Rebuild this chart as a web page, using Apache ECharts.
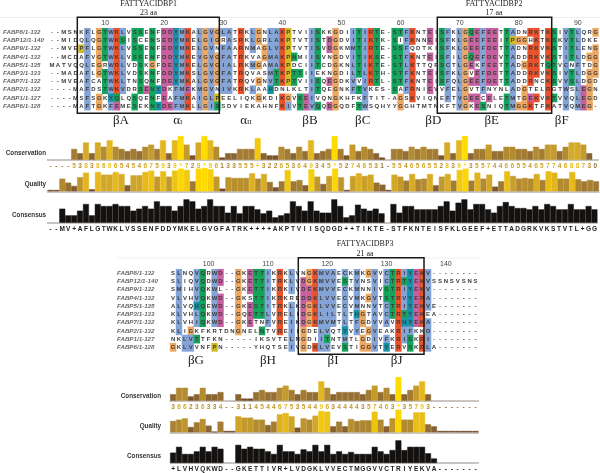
<!DOCTYPE html>
<html>
<head>
<meta charset="utf-8">
<title>FABP alignment</title>
<style>
  html, body { margin: 0; padding: 0; background: #fff; }
  #chart { width: 600px; height: 473px; }
</style>
<script src="https://cdn.jsdelivr.net/npm/echarts@6/dist/echarts.min.js"></script>
</head>
<body>
<div id="chart"></div>
<script>
var proteins = ['FABP8/1-132', 'FABP12/1-140', 'FABP9/1-132', 'FABP4/1-132', 'FABP5/1-135',
  'FABP3/1-133', 'FABP7/1-132', 'FABP2/1-132', 'FABP1/1-127', 'FABP6/1-128']

// columns 1-93
var residues1 = [
  '--MSNKFLGTWKLVSSENFDDYMKALGVGLATRKLGNLAKPTVIISKKGDIITIRTE-STFKNTEISFKLGQEFEETTADNRKTKSIVTLQRG',
  '--MIDQLQGTWKSISCENSEDYMKELGIGRASRKLGRLAKPTVTISTDGDVITIKTK-SIFKNNEISFKLGEEFEEITPGGHKTKSKVTLDKE',
  '--MVEPFLGTWKLVSSENFEDYMKELGVNFAARNMAGLVKPTVTISVDGKMMTIRTE-SSFQDTKISFKLGEEFDETTADNRKVKSTITLENG',
  '--MCDAFVGTWKLVSSENFDDYMKEVGVGFATRKVAGMAKPNMIISVNGDVITIKSE-STFKNTEISFILGQEFDEVTADDRKVKSTITLDGG',
  'MATVQQLEGRWRLVDSKGFDEYMKELGVGIALRKMGAMAKPDCIITCDGKNLTIKTE-STLKTTQFSCTLGEKFEETTADGRKTQTVCNFTDG',
  '--MADAFLGTWKLVDSKNFDDYMKSLGVGFATRQVASMTKPTTIIEKNGDILTLKTH-STFKNTEISFKLGVEFDETTADDRKVKSIVTLDGG',
  '--MVEAFCATWKLTNSQNFDEYMKALGVGFATRQVGNVTKPTVIISQEGDKVVIRTL-STFKNTEISFQLGEEFDETTADDRNCKSVVSLDGD',
  '----MAFDSTWKVDRSENYDKFMEKMGVNIVKRKLAAHDNLKLTITQEGNKFTVKES-SAFRNIEVVFELGVTFNYNLADGTELRGTWSLEGN',
  '----MSFSGKYQLQSQENFEAFMKAIGLPEELIQKGKDIKGVSEIVQNGKHFKFTIT-AGSKVIQNEFTVGEECELETMTGEKVKTVVQLEGD',
  '----MAFTGKFEMESEKNYDEFMKLLGISSDVIEKAHNFKIVTEVQQDGQDFTWSQHYYGGHTMTNKFTVGKESNIQTMGGKTFKATVQMEG-'
]
// columns 94-145
var residues2 = [
  'SLNQVQRWD--GKETTIKRKLVNGKMVAECKMKGVVCTRIYEKV--------',
  'SLIQVQDWD--GKETTITRKLVDGKMVVESTVNSVICTRTYEKVSSNSVSNS',
  'SMIHVQKWL--GKETTIKRKIVDEKMVVECKMNNIVSTRIYEKV--------',
  'VLVHVQKWD--GKSTTIKRKREDDKLVVECVMKGVTSTRVYERA--------',
  'ALVQHQEWD--GKESTITRKLKDGKLVVECVMNNVTCTRIYEKVE-------',
  'KLVHLQKWD--GQETTLVRELIDGKLILTLTHGTAVCTRTYEKEA-------',
  'KLVHIQKWD--GKETNFVREIKDGKMVMTLTFGDVVAVRHYEKA--------',
  'KLIGKFKRTDNGNELNTVREIIGDELVQTYVYEGVEAKRIFKKD--------',
  'NKLVTTFKN-----IKSVTELNGDIITNTMTLGDIVFKRISKRI--------',
  'GKLVVNFPN-----YHQTSEIVGDKLVEVSTIGGVTYERVSKRLA-------'
]

// one string per column, one letter per protein
var cellColours1 = [
  '..........', '..........', '..........', '..........', '..........', '..y.......', 'bbbbbbbbbb', '..........', 'oooooo..oo', 'gggg.ggg..',
  'bbbbbbbbcb', 'rrrrrrrrgm', 'bgbbbbbb..', '..........', 'gggg....gg', 'g.gggggg..', '.......m..', 'ggggoggggg', '.......c.c', 'mmmmmmmmmm',
  'mmmmmmm..m', 'cccccccbbb', 'bbbbbbbbbb', 'rrrrrrrmrr', '..........', 'bbbbbbbbbb', 'oooooooooo', 'bbbbbbbbbb', 'oo.oooo.yg', 'b.bbbbbb..',
  'bbbbbbbb..', '..........', 'rrrrrrrr..', '..........', 'bbb.b..b..', 'oo..o.o.o.', '..oo......', 'bbbbbbbc..', 'bbbbbgg...', 'rrrrrrr.rr',
  'yyyyyyy.ob', '...g.gg...', '.....g..gg', '........mm', 'bbbbbbbbbb', 'ggggg.gg.g', '..........', '.mm...m..m', 'oooooooooo', '..........',
  '..........', 'bbbbbbbb..', 'gggggg.g.g', 'bbbbbbbbbb', 'rrrrrrr...', 'ggggggg...', '..........', '..........', 'gggggggg..', 'g.ggggg.oo',
  'bbbbbbbb..', 'rr.rrrrrr.', '..........', '..........', 'mm.m.mmm..', '..........', 'ggggggg...', 'bbbbbbbbb.', '..........', 'bbbbbbbbbb',
  'oooooooooo', 'gmmgm.m.m.', 'mmmm.mm.mm', 'bbbbbbbb.g', 'mmmmmmm.m.', 'mmmmmmm...', '..........', 'ggggggg.gg', 'bybbbbbbbb', '.o.......o',
  '.o..o..ooo', 'r.rrrrr.mr', 'rrrrrr..r.', '..........', 'rrrrgrrrrr', 'ggggggg.g.', '..........', 'bbbbbbbbbb', 'gggg.gg...', 'bbbbbbbbbb',
  '.......mmm', '...o.ooooo', 'o.oooo....'
]
var cellColours2 = [
  '.........o', 'bbbbbbbb..', '........bb', '.......obb', 'bbbbcbb.g.', 'ggggggg...', '..........', 'bbbbbbb..y', 'mm.mmmm...', '..........',
  '..........', 'oooooooo..', '..........', 'mmm.mmm...', 'gggggg....', 'gggggg.g..', 'bbbbbbb...', '..........', 'rrrrrrrr..', '..........',
  'bbb.bbbbbb', '..........', '.mmmmmmooo', 'oommooo...', 'rrrrrrr..r', 'bbbbbbbbbb', 'bbbbbbbbgb', 'bbbbbbb...', '..........', 'bgbbbbbcbg',
  '..........', 'bbbbbcbb..', '.....oo.oo', 'o..o...o.o', 'bbbbbbbbbb', '..........', 'bbggbbb.bc', 'gggggg....', 'rrrrrrrrrr', 'bgbbbgcbb.',
  'cccccccbgg', 'mmmmmmm...', 'rrrrrrr.rr', 'bbbbb.bbbb'
]

var conservation1 = '----538386' + '9654546759' + '39*728*961' + '33555+3226' + '53649345*5' + '2746531-55' + '4656552839' + '*355744665' + '5465774688' + '730'
var conservation2 = '366236334' + '--' + '311454467' + '53544963' + '4444' + '357463' + '*' + '35793' + '--------'

var quality1 = [4, 4, 38, 26, 16, 42, 56, 6, 58, 50,
  50, 58, 52, 18, 48, 48, 58, 62, 44, 60,
  44, 62, 68, 64, 30, 68, 70, 66, 44, 8,
  42, 40, 40, 40, 54, 38, 52, 28, 12, 30,
  64, 30, 34, 18, 66, 44, 22, 46, 68, 42,
  4, 46, 54, 46, 50, 26, 20, 4, 50, 44,
  32, 52, 36, 38, 52, 18, 44, 52, 32, 64,
  68, 32, 56, 38, 50, 14, 30, 60, 46, 38,
  40, 38, 52, 34, 60, 56, 38, 38, 58, 36,
  30, 34, 30]
var quality2 = [34, 38, 42, 16, 30, 40, 20, 2, 32, 4,
  4, 48, 44, 44, 38, 38, 22, 32, 54, 58,
  48, 14, 42, 38, 50, 64, 62, 18, 32, 18,
  40, 34, 36, 36, 62, 38, 18, 42, 68, 38,
  38, 60, 60, 24, 18, 4, 4, 4, 4, 4,
  4, 4]

var consensusHeight1 = [0, 0, 42, 22, 22, 36, 56, 22, 56, 50,
  50, 56, 50, 50, 36, 42, 50, 42, 64, 50,
  50, 36, 50, 70, 64, 42, 50, 70, 50, 50,
  30, 50, 28, 50, 50, 40, 28, 36, 16, 22,
  28, 64, 50, 36, 64, 36, 30, 30, 70, 50,
  16, 22, 54, 42, 36, 42, 28, 0, 56, 30,
  50, 50, 40, 40, 40, 40, 50, 64, 36, 60,
  70, 40, 56, 56, 40, 30, 50, 62, 50, 44,
  44, 40, 50, 40, 56, 50, 40, 40, 56, 40,
  40, 50, 40]
var consensusHeight2 = [32, 50, 28, 28, 36, 50, 36, 50, 44, 0,
  0, 56, 44, 50, 44, 44, 36, 28, 56, 36,
  36, 28, 42, 36, 56, 36, 56, 28, 36, 28,
  34, 28, 28, 28, 50, 36, 28, 40, 70, 40,
  50, 50, 50, 30, 14, 0, 0, 0, 0, 0,
  0, 0]
var consensusText1 = '--MV+AFLGTWKLVSSENFDDYMKELGVGFATRK++++AKPTVIISQDGD++TIKTE-STFKNTEISFKLGEEF+ETTADGRKVKSTVTL+GG'
var consensusText2 = '+LVHVQKWD--GKETTIVR+LVDGKLVVECTMGGVVCTRIYEKVA-------'

var paletteColours = {
  b: '#84a3d6', r: '#e8522a', m: '#c7609f', g: '#14a35a',
  o: '#eca862', y: '#d0bb20', c: '#1592a8'
}
var gradient = ['#6b3f24', '#8b6632', '#a98232', '#cda22a', '#e8bb1c', '#ffdb00']
var sansFont = '"Liberation Sans", Arial, sans-serif'
var serifFont = '"Liberation Serif", "Times New Roman", serif'

// darker in the middle than a straight ramp, only the top bars go yellow
function heat(frac) {
  return echarts.color.lerp(Math.pow(Math.min(frac, 1), 1.3), gradient)
}
function conservationValue(ch) {
  if (ch === '*') return 11
  if (ch === '+') return 10
  if (ch === '-') return 0
  return Number(ch)
}
function columnNames(first, n) {
  var out = []
  for (var i = 0; i < n; i++) out.push(String(first + i))
  return out
}

var grid = [], xAxis = [], yAxis = [], series = []

function addAlignment(left, top, rowH, firstCol, residues, colours) {
  var n = residues[0].length
  var cols = columnNames(firstCol, n)
  var idx = grid.length
  grid.push({ left: left, top: top, width: n * 5.93, height: rowH * 10 })
  xAxis.push({
    gridIndex: idx, type: 'category', data: cols, position: 'top',
    axisLine: { show: false },
    axisTick: {
      alignWithLabel: true, length: 2, lineStyle: { color: '#555', width: 1 },
      interval: function (i, v) { return Number(v) % 5 === 0 }
    },
    axisLabel: {
      fontSize: 7, color: '#444', fontFamily: sansFont, margin: 2, hideOverlap: false,
      interval: function (i, v) { return Number(v) % 10 === 0 }
    }
  })
  yAxis.push({
    gridIndex: idx, type: 'category', inverse: true, data: proteins,
    axisLine: { show: false }, axisTick: { show: false },
    axisLabel: {
      align: 'left', margin: left - (firstCol === 1 ? 1 : 117),
      fontSize: 6.2, fontStyle: 'italic', fontWeight: 'bold', color: '#666', fontFamily: sansFont
    }
  })
  var data = []
  for (var c = 0; c < n; c++) {
    for (var r = 0; r < 10; r++) {
      var code = (colours[c] || '..........').charAt(r)
      data.push({
        value: [c, r, 1],
        name: residues[r].charAt(c),
        itemStyle: { color: paletteColours[code] || 'rgba(255,255,255,0)' }
      })
    }
  }
  series.push({
    type: 'heatmap', xAxisIndex: idx, yAxisIndex: idx, data: data, silent: true,
    label: {
      show: true, formatter: '{b}', fontSize: 6, fontWeight: 'bold',
      color: '#3c3c3c', fontFamily: sansFont
    }
  })
}

function addBars(left, top, height, firstCol, values, yMax, barColour, labels, labelStyle) {
  var idx = grid.length
  var cols = columnNames(firstCol, values.length)
  grid.push({ left: left, top: top, width: values.length * 5.93, height: height })
  xAxis.push({
    gridIndex: idx, type: 'category', data: cols,
    axisLine: { lineStyle: { color: '#b8b3ae', width: 1.5 } },
    axisTick: { show: false },
    axisLabel: labels ? Object.assign({
      show: true, interval: 0, hideOverlap: false, fontFamily: sansFont,
      formatter: function (v) { return labels.charAt(Number(v) - firstCol) }
    }, labelStyle) : { show: false }
  })
  yAxis.push({ gridIndex: idx, type: 'value', min: 0, max: yMax, show: false })
  // same coloured border so neighbouring bars leave no seam at fractional widths
  var items = values.map(function (v) {
    var col = barColour(v)
    return { value: v, itemStyle: { color: col, borderColor: col, borderWidth: v > 0 ? 0.5 : 0 } }
  })
  series.push({
    type: 'bar', xAxisIndex: idx, yAxisIndex: idx, data: items, silent: true,
    barCategoryGap: '0%', barGap: '0%'
  })
}

function addTracks(left, conservation, consensusHeight, consensusText, quality, firstCol, tops) {
  var consValues = conservation.split('').map(conservationValue)
  addBars(left, tops[0], 23.7, firstCol, consValues, 11,
    function (v) { return heat(v / 11) },
    conservation, {
      fontSize: 6.5, fontWeight: 'bold', margin: 3,
      color: function (v) {
        return heat(0.4 + 0.6 * conservationValue(conservation.charAt(Number(v) - firstCol)) / 11)
      }
    })
  addBars(left, tops[1], 24, firstCol, quality, 72,
    function (v) { return heat(v / 70) })
  addBars(left, tops[2], 24, firstCol, consensusHeight, 72,
    function () { return '#141210' },
    consensusText, { fontSize: 6.5, fontWeight: 'bold', color: '#222', margin: 3 })
}

addAlignment(47, 28.2, 8.2, 1, residues1, cellColours1)
addAlignment(170.1, 269.2, 8.22, 94, residues2, cellColours2)
addTracks(47.5, conservation1, consensusHeight1, consensusText1, quality1, 1, [136, 167.3, 198.7])
addTracks(170.1, conservation2, consensusHeight2, consensusText2, quality2, 94, [377, 408.3, 439.7])

function serifLabel(text, x, y, size) {
  return {
    type: 'text', x: x, y: y, silent: true,
    style: { text: text, font: size + 'px ' + serifFont, fill: '#222', align: 'center', verticalAlign: 'middle' }
  }
}
function alphaLabel(sub, x, y) {
  return {
    type: 'text', x: x, y: y, silent: true,
    style: {
      text: '{a|α}{s|' + sub + '}', fill: '#222', align: 'center', verticalAlign: 'middle',
      rich: {
        a: { font: '13px ' + serifFont, fill: '#222' },
        s: { font: '7px ' + serifFont, fill: '#222', padding: [3, 0, 0, 0] }
      }
    }
  }
}
function trackLabel(text, x, y) {
  return {
    type: 'text', x: x, y: y, silent: true,
    style: { text: text, font: 'bold 6.3px ' + sansFont, fill: '#333', align: 'right', verticalAlign: 'middle' }
  }
}
function frame(x1, y1, x2, y2) {
  return {
    type: 'rect', z: 10, silent: true,
    shape: { x: x1, y: y1, width: x2 - x1, height: y2 - y1 },
    style: { fill: 'none', stroke: '#1a1a1a', lineWidth: 1.5 }
  }
}
function hairline(x1, x2, y) {
  return {
    type: 'line', silent: true,
    shape: { x1: x1, y1: y, x2: x2, y2: y },
    style: { stroke: '#efefef', lineWidth: 1 }
  }
}

var annotations = [
  hairline(0, 600, 17.5), hairline(117, 480, 258),
  frame(77.3, 17.3, 219.3, 113.3), frame(437.3, 17.3, 551.7, 113.3), frame(298.3, 257.7, 424, 354.3),
  serifLabel('FATTYACIDBP1', 148.5, 3.5, 8), serifLabel('23 aa', 148.5, 13, 8),
  serifLabel('FATTYACIDBP2', 494, 3.5, 8), serifLabel('17 aa', 494, 13, 8),
  serifLabel('FATTYACIDBP3', 365, 244, 8), serifLabel('21 aa', 365, 254, 8),
  serifLabel('βA', 121, 121, 13), alphaLabel('I', 177.7, 121), alphaLabel('II', 246, 121),
  serifLabel('βB', 310, 121, 13), serifLabel('βC', 362.7, 121, 13), serifLabel('βD', 433.3, 121, 13),
  serifLabel('βE', 491.7, 121, 13), serifLabel('βF', 561.7, 121, 13),
  serifLabel('βG', 196, 361, 13), serifLabel('βH', 268, 361, 13), serifLabel('βI', 333, 361, 13),
  serifLabel('βJ', 396.7, 361, 13),
  trackLabel('Conservation', 46, 153), trackLabel('Quality', 46, 184), trackLabel('Consensus', 46, 215.7),
  trackLabel('Conservation', 161, 396), trackLabel('Quality', 161, 426), trackLabel('Consensus', 161, 456.7)
]

var chart = echarts.init(document.getElementById('chart'), null, { renderer: 'canvas' })
chart.setOption({
  backgroundColor: '#ffffff',
  animation: false,
  tooltip: { show: false },
  grid: grid,
  xAxis: xAxis,
  yAxis: yAxis,
  series: series,
  graphic: { elements: annotations }
})
</script>
</body>
</html>
